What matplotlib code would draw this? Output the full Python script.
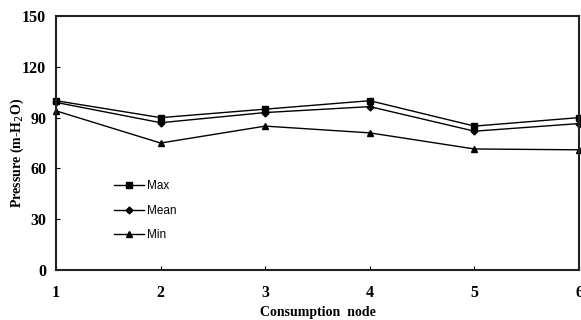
import matplotlib
matplotlib.use('Agg')
import matplotlib.pyplot as plt

nodes = [1, 2, 3, 4, 5, 6]
p_max = [100, 90, 95, 100, 85, 90]
p_mean = [99, 87, 93, 96.5, 82, 86.5]
p_min = [94, 75, 85, 81, 71.5, 71]
y_ticks = [0, 30, 60, 90, 120, 150]

fig = plt.figure(figsize=(5.81, 3.2), dpi=100)
ax = fig.add_axes([0.0964, 0.156, 0.9002, 0.794])

ax.plot(nodes, p_max, color='black', lw=1, marker='s', ms=5, label='Max', clip_on=False)
ax.plot(nodes, p_mean, color='black', lw=1, marker='D', ms=3.5, label='Mean', clip_on=False)
ax.plot(nodes, p_min, color='black', lw=1, marker='^', ms=5, label='Min', clip_on=False)

ax.set_xlim(1, 6)
ax.set_ylim(0, 150)
ax.set_xticks(nodes)
ax.set_yticks(y_ticks)
ax.tick_params(direction='in', length=3, width=0.8)
ax.tick_params(axis='x', pad=11)
ax.tick_params(axis='y', pad=7)

for lab in ax.get_xticklabels() + ax.get_yticklabels():
    lab.set_fontfamily('Liberation Serif')
    lab.set_fontweight('bold')
    lab.set_fontsize(11.5)

for s in ax.spines.values():
    s.set_linewidth(1.5)
    s.set_color('#222222')

ax.set_xlabel('Consumption  node', fontfamily='Liberation Serif', fontweight='bold',
              fontsize=10, labelpad=3)
ax.set_ylabel('Pressure (m-H$_2$O)', fontfamily='Liberation Serif', fontweight='bold',
              fontsize=10, va='center')
ax.yaxis.set_label_coords(-0.074, 0.463)

leg = ax.legend(loc='upper left', bbox_to_anchor=(0.09, 0.395), frameon=False,
                prop={'family': 'Liberation Sans', 'size': 8.5},
                handlelength=2.6, handletextpad=0.2, labelspacing=1.05)

plt.savefig('out.png', dpi=100)
plt.close('all')
